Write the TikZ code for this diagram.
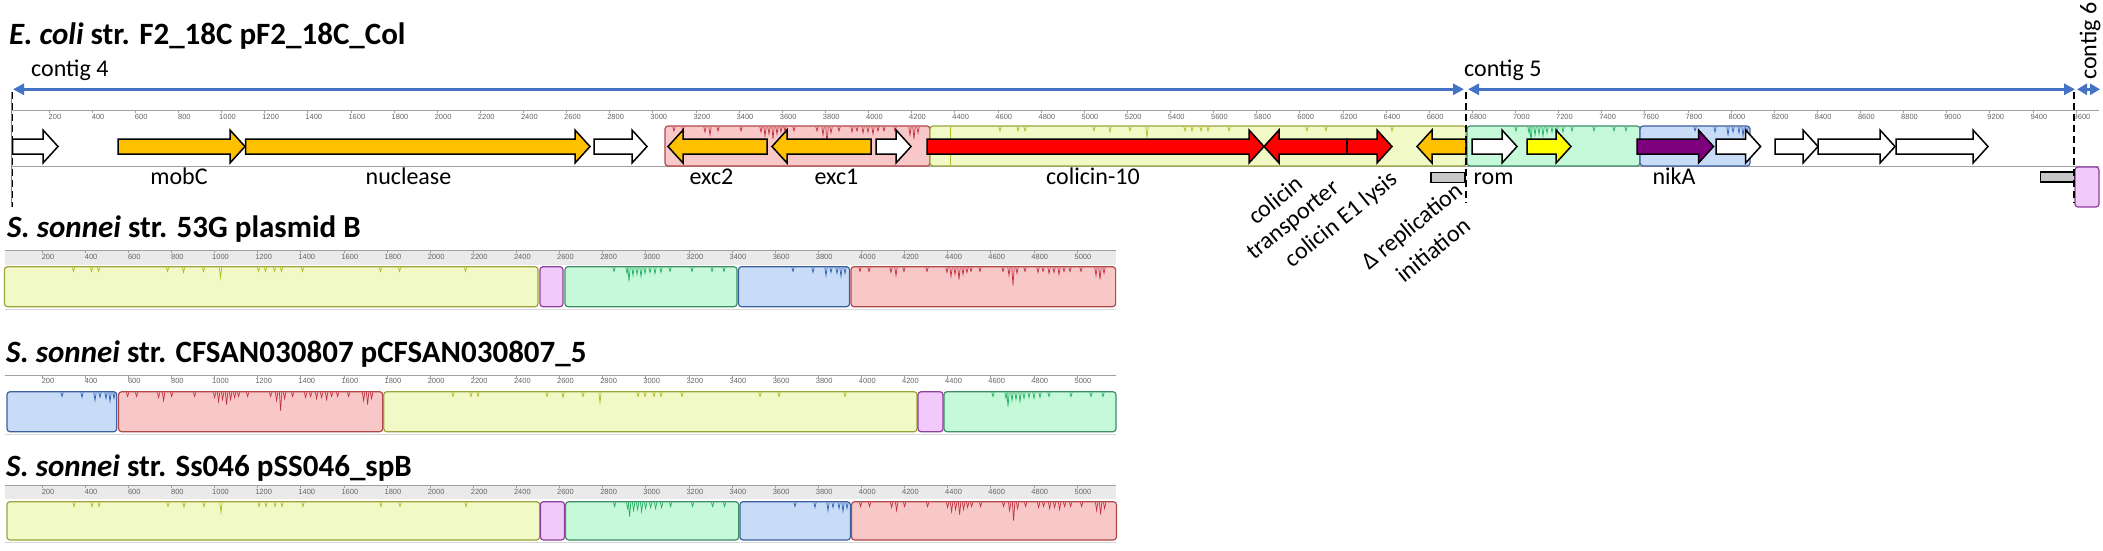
\documentclass[tikz,border=0pt]{standalone}
\usepackage{fontspec}
\setmainfont{Carlito}
\newfontfamily\rulerfont{Liberation Sans}
\usetikzlibrary{arrows.meta}
\definecolor{cblue}{HTML}{4472C4}
\definecolor{gorange}{HTML}{FFC000}
\definecolor{gred}{HTML}{FF0000}
\definecolor{gyellow}{HTML}{FFFF00}
\definecolor{gpurple}{HTML}{7F007F}
\definecolor{ylwF}{HTML}{F1FAC6}
\definecolor{ylwD}{HTML}{9CA33C}
\definecolor{pnkF}{HTML}{F8C8C8}
\definecolor{pnkD}{HTML}{B04848}
\definecolor{grnF}{HTML}{C6F8DA}
\definecolor{grnD}{HTML}{3E8E66}
\definecolor{bluF}{HTML}{C8DCF8}
\definecolor{bluD}{HTML}{3E5E9E}
\definecolor{lavF}{HTML}{F1CAF9}
\definecolor{lavD}{HTML}{8E3E9C}
\definecolor{spY}{HTML}{B0BC20}
\definecolor{spG}{HTML}{20B060}
\definecolor{spB}{HTML}{3060B0}
\definecolor{spR}{HTML}{C03040}
\definecolor{bandgray}{HTML}{EAEAEA}
\definecolor{linegray}{HTML}{A0A0A0}

\def\Ylist{69/4,87/4,94/4,163/4,179/5,199/4,216/10,254/4,261/4,270/4,277/4,298/4,376/4,395/4,461/4}
\def\Glist{49/4,62/6,64/14,68/8,72/7,76/9,80/6,85/5,90/6,96/5,105/4,127/4,147/4,159/4}
\def\Blist{55/4,75/5,88/8,93/5,99/6,103/9,107/6}
\def\Rlist{9/4,18/4,40/5,45/8,53/4,76/4,96/5,100/9,104/7,108/12,112/7,116/5,120/4,129/4,152/4,158/8,162/18,166/6,174/4,187/5,192/4,198/6,203/5,208/7,213/4,219/4,230/4,245/8,249/12,253/6}

\newcommand{\gene}[3]{%
  \pgfmathsetmacro{\hx}{#2<#3 ? #3-15 : #3+15}%
  \draw[gene, fill=#1] (#2,139) -- (\hx,139) -- (\hx,130) -- (#3,146.5) -- (\hx,163) -- (\hx,154) -- (#2,154) -- cycle;}
\newcommand{\spk}[4]{%
  \foreach \o/\d in #4 {\draw[#1, line width=0.7pt] ({#2+\o-1.2},#3) -- ({#2+\o},{#3+\d}) -- ({#2+\o+1.2},#3);}}

\begin{document}
\begin{tikzpicture}[x=1pt,y=-1pt,
  ttl/.style={font=\fontsize{31}{31}\selectfont\bfseries, anchor=base west, inner sep=0pt},
  lab/.style={font=\fontsize{24}{24}\selectfont, anchor=base, inner sep=0pt},
  rlab/.style={font=\fontsize{24}{24}\selectfont, rotate=39, inner sep=0pt},
  rl/.style={font=\rulerfont\fontsize{7.5}{7.5}\selectfont, text=black!60, inner sep=0pt},
  contig/.style={draw=cblue, line width=2.8pt, {Triangle[length=11pt,width=11pt]}-{Triangle[length=11pt,width=11pt]}},
  cdash/.style={draw=black, line width=1.8pt, dash pattern=on 7pt off 4pt},
  blk/.style={rounded corners=3pt, line width=1.2pt},
  ylw/.style={blk, fill=ylwF, draw=ylwD},
  pnk/.style={blk, fill=pnkF, draw=pnkD},
  grn/.style={blk, fill=grnF, draw=grnD},
  blu/.style={blk, fill=bluF, draw=bluD},
  lav/.style={blk, fill=lavF, draw=lavD},
  gene/.style={draw=black, line width=1.5pt, line join=miter},
  grect/.style={draw=black, line width=1.5pt, fill=black!22},
  rline/.style={draw=linegray, line width=1pt}]
\useasboundingbox (0,0) rectangle (2103,551);
\fill[white] (0,0) rectangle (2103,551);

% ---------------- titles
\node[ttl] (t1) at (9,45) {\textit{E. coli} str. F2\_18C pF2\_18C\_Col};
\node[ttl] (t2) at (7,237) {\textit{S. sonnei} str. 53G plasmid B};
\node[ttl] (t3) at (6,362) {\textit{S. sonnei} str. CFSAN030807 pCFSAN030807\_5};
\node[ttl] (t4) at (6,476) {\textit{S. sonnei} str. Ss046 pSS046\_spB};

% ---------------- contigs
\coordinate (c4a) at (13,89.3);   \coordinate (c4b) at (1464,89.3);
\coordinate (c5a) at (1468,89.3); \coordinate (c5b) at (2075,89.3);
\coordinate (c6a) at (2077,89.3); \coordinate (c6b) at (2100,89.3);
\draw[contig] (c4a) -- (c4b);
\draw[contig] (c5a) -- (c5b);
\draw[draw=cblue, line width=2.8pt, {Triangle[length=10pt,width=11pt]}-{Triangle[length=10pt,width=11pt]}] (c6a) -- (c6b);
\node[lab, anchor=base west] (lc4) at (31,76) {contig 4};
\node[lab, anchor=base west] (lc5) at (1464,76) {contig 5};
\node[font=\fontsize{24}{24}\selectfont, rotate=90, inner sep=0pt] (lc6) at (2090,41) {contig 6};

% ---------------- top track
\draw[rline] (12,110) -- (2099,110);
\foreach \b in {200,400,...,9600} {
  \node[rl] at ({11.87+0.21564*\b},117) {\b};
  \draw[linegray, line width=0.6pt] ({11.87+0.21564*\b-6},110) -- ++(0,3);
}
\draw[rline] (12,166) -- (2099,166);
\draw[pnk] (665,126) rectangle (930,166);
\draw[ylw] (930,126) rectangle (1466,166);
\draw[grn] (1467,126) rectangle (1640,166);
\draw[blu] (1640,126) rectangle (1750,166);
\spk{spR}{665}{127}{\Rlist}
\spk{spY}{931}{127}{\Ylist}
\spk{spG}{1467}{127}{\Glist}
\spk{spB}{1640}{127}{\Blist}
\draw[spY, line width=1pt] (950,127) -- (950,165);

% genes
\gene{white}{12.5}{58}
\gene{gorange}{118}{245}
\gene{gorange}{245.5}{590}
\gene{white}{594}{647}
\gene{gorange}{767}{668}
\gene{gorange}{871}{772}
\gene{white}{876}{911}
\gene{gred}{927}{1264}
\gene{gred}{1347}{1264}
\gene{gred}{1347}{1392}
\gene{gorange}{1466}{1417}
\gene{white}{1472}{1517}
\gene{gyellow}{1527}{1571}
\gene{gpurple}{1637}{1713.5}
\gene{white}{1716}{1760.6}
\gene{white}{1775}{1818}
\gene{white}{1818}{1895}
\gene{white}{1896}{1988}

\draw[grect] (1431,172.7) rectangle (1465,182.7);
\draw[grect] (2040.5,172) rectangle (2075,182);
\draw[lav] (2075,167) rectangle (2099,207);

% contig boundaries
\draw[red!70, line width=1pt] (11,92) -- (11,207);
\draw[cdash] (12.5,92) -- (12.5,207);
\draw[cdash] (1466,92) -- (1466,203);
\draw[cdash] (2074,92) -- (2074,203);

% gene labels
\node[lab] (lmob) at (179,184) {mobC};
\node[lab] (lnuc) at (408.5,184) {nuclease};
\node[lab] (lexc2) at (711.5,184) {exc2};
\node[lab] (lexc1) at (836.5,184) {exc1};
\node[lab] (lcol) at (1093,184) {colicin-10};
\node[lab] (lrom) at (1493.5,184) {rom};
\node[lab] (lnik) at (1674,184) {nikA};
\node[rlab] (lc1) at (1275,200) {colicin};
\node[rlab] (lc2) at (1294,221) {transporter};
\node[rlab] (lc3) at (1342,220) {colicin E1 lysis};
\node[rlab] (lc4r) at (1413,227) {Δ replication};
\node[rlab] (lc5r) at (1433,250) {initiation};

% ---------------- track 2
\fill[bandgray] (4.5,250) rectangle (1116,265);
\draw[rline] (4.5,250) -- (1116,250);
\foreach \b in {200,400,...,5000} {
  \node[rl] at ({4.9+0.2156*\b},257) {\b};
  \draw[linegray, line width=0.6pt] ({4.9+0.2156*\b-6},250) -- ++(0,3);
}
\draw[black!15, line width=1pt] (4.5,309) -- (1116,309);
\draw[ylw] (4.5,266.7) rectangle (538,306.7);
\draw[lav] (540,266.7) rectangle (563,306.7);
\draw[grn] (565,266.7) rectangle (737,306.7);
\draw[blu] (738.5,266.7) rectangle (849.5,306.7);
\draw[pnk] (851,266.7) rectangle (1115.6,306.7);
\spk{spY}{4.5}{267.5}{\Ylist}
\spk{spG}{565}{267.5}{\Glist}
\spk{spB}{738}{267.5}{\Blist}
\spk{spR}{851}{267.5}{\Rlist}

% ---------------- track 3
\draw[rline] (4.5,375.7) -- (1116,375.7);
\foreach \b in {200,400,...,5000} {
  \node[rl] at ({4.9+0.2156*\b},381) {\b};
  \draw[linegray, line width=0.6pt] ({4.9+0.2156*\b-6},375.7) -- ++(0,3);
}
\draw[black!15, line width=1pt] (4.5,434) -- (1116,434);
\draw[blu] (7,391.7) rectangle (116.7,431.7);
\draw[pnk] (118.6,391.7) rectangle (382.7,431.7);
\draw[ylw] (383.8,391.7) rectangle (917,431.7);
\draw[lav] (918,391.7) rectangle (943,431.7);
\draw[grn] (944,391.7) rectangle (1116,431.7);
\spk{spB}{7}{392.5}{\Blist}
\spk{spR}{118.6}{392.5}{\Rlist}
\spk{spY}{384}{392.5}{\Ylist}
\spk{spG}{944}{392.5}{\Glist}

% ---------------- track 4
\fill[bandgray] (4.5,485) rectangle (1116,499);
\draw[rline] (4.5,485) -- (1116,485);
\foreach \b in {200,400,...,5000} {
  \node[rl] at ({4.9+0.2156*\b},491.7) {\b};
  \draw[linegray, line width=0.6pt] ({4.9+0.2156*\b-6},485) -- ++(0,3);
}
\draw[black!15, line width=1pt] (4.5,542.5) -- (1116,542.5);
\draw[ylw] (7,501.7) rectangle (539.6,540);
\draw[lav] (540.4,501.7) rectangle (564.5,540);
\draw[grn] (565.6,501.7) rectangle (738.7,540);
\draw[blu] (740,501.7) rectangle (850.4,540);
\draw[pnk] (851.6,501.7) rectangle (1116.4,540);
\spk{spY}{5}{502.5}{\Ylist}
\spk{spG}{565.6}{502.5}{\Glist}
\spk{spB}{740}{502.5}{\Blist}
\spk{spR}{851.6}{502.5}{\Rlist}
\end{tikzpicture}
\end{document}
